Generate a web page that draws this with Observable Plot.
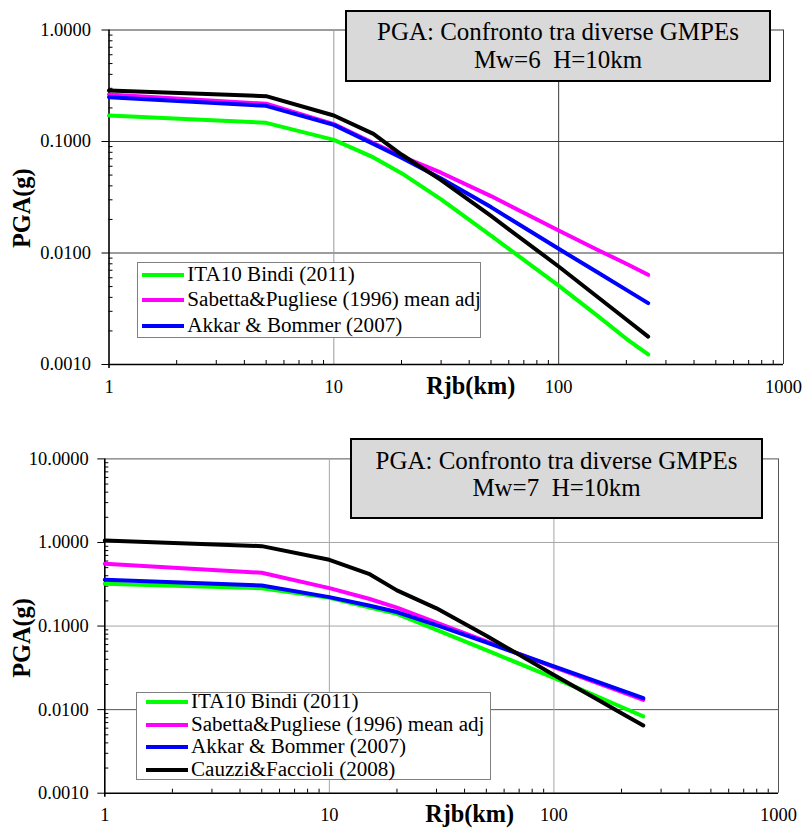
<!DOCTYPE html>
<html>
<head>
<meta charset="utf-8">
<script src="https://cdn.jsdelivr.net/npm/d3@7"></script>
<script src="https://cdn.jsdelivr.net/npm/@observablehq/plot@0.6"></script>
<style>
  html, body { margin: 0; padding: 0; background: #fff; }
  #root { position: relative; width: 802px; height: 829px; overflow: hidden; }
  .panel { position: absolute; left: 0; }
  .titlebox { position: absolute; box-sizing: border-box; border: 2px solid #000; background: #d9d9d9; text-align: center; color: #000; white-space: pre; }
  .legend { position: absolute; box-sizing: border-box; border: 1px solid #808080; background: #fff; color: #000; white-space: pre; }
  .row { display: flex; align-items: center; }
  .sw { display: inline-block; height: 4px; flex: none; }
</style>
</head>
<body>
<div id="root"></div>
<script>
// ---------------- data ----------------
const distances = [1, 5, 10, 15, 20, 30, 50, 100, 150, 200, 250];

// Mw=6, H=10km
const bindiMw6    = [0.171, 0.147, 0.1035, 0.072, 0.052, 0.0303, 0.0143, 0.0051, 0.0027, 0.0017, 0.00123];
const sabettaMw6  = [0.264, 0.218, 0.143, 0.097, 0.0735, 0.0525, 0.0324, 0.0159, 0.0106, 0.0080, 0.00637];
const akkarMw6    = [0.250, 0.209, 0.141, 0.095, 0.0714, 0.0465, 0.0258, 0.0109, 0.00664, 0.00467, 0.00355];
const cauzziMw6   = [0.287, 0.255, 0.171, 0.117, 0.0764, 0.0450, 0.0215, 0.00757, 0.00399, 0.00253, 0.00178];

// Mw=7, H=10km
const bindiMw7    = [0.320, 0.284, 0.218, 0.168, 0.140, 0.090, 0.0515, 0.024, 0.015, 0.01075, 0.0083];
const sabettaMw7  = [0.556, 0.434, 0.284, 0.212, 0.166, 0.110, 0.0656, 0.0323, 0.0217, 0.0163, 0.0131];
const akkarMw7    = [0.358, 0.306, 0.222, 0.176, 0.147, 0.1025, 0.0637, 0.033, 0.0224, 0.017, 0.0137];
const cauzziMw7   = [1.057, 0.904, 0.621, 0.422, 0.267, 0.163, 0.0766, 0.026, 0.0141, 0.00906, 0.00647];

const modelNames = ["ITA10 Bindi (2011)", "Sabetta&Pugliese (1996) mean adj", "Akkar & Bommer (2007)", "Cauzzi&Faccioli (2008)"];
const modelColors = ["#00ff00", "#ff00ff", "#0000ff", "#000000"];

const xMajorTicks = [1, 10, 100, 1000];
const xMinorTicks = [2,3,4,5,6,7,8,9,20,30,40,50,60,70,80,90,200,300,400,500,600,700,800,900];
const yMajorTicksMw6 = [0.001, 0.01, 0.1, 1];
const yMajorTicksMw7 = [0.001, 0.01, 0.1, 1, 10];
const titleMw6 = ["PGA: Confronto tra diverse GMPEs", "Mw=6  H=10km"];
const titleMw7 = ["PGA: Confronto tra diverse GMPEs", "Mw=7  H=10km"];
const yLabel = "PGA(g)";
const xLabel = "Rjb(km)";

// ---------------- font selection (serif, Times-like) ----------------
const ctx = document.createElement("canvas").getContext("2d");
function hasFont(f) {
  const s = "abcdefghijklmnopqrstuvwxyzABCDEFGHIJ0123456789";
  let res = false;
  for (const base of ["monospace", "sans-serif"]) {
    ctx.font = `40px ${base}`; const w0 = ctx.measureText(s).width;
    ctx.font = `40px "${f}", ${base}`; const w1 = ctx.measureText(s).width;
    if (Math.abs(w1 - w0) > 0.5) res = true;
  }
  return res;
}
const candidates = ["Liberation Serif", "Times New Roman", "Tinos", "Nimbus Roman", "Nimbus Roman No9 L", "DejaVu Serif", "Noto Serif"];
const chosen = candidates.find(hasFont);
const FAMILY = chosen ? `"${chosen}", serif` : "serif";
function fitSize(text, target, nominal, weight) {
  ctx.font = `${weight || "normal"} ${nominal}px ${FAMILY}`;
  const w = ctx.measureText(text).width;
  return w > 0 ? nominal * target / w : nominal;
}
const tickFs   = fitSize("10.0000", 60, 18);
const legendFs = fitSize("ITA10 Bindi (2011)", 167.5, 20);
const titleFs  = fitSize("PGA: Confronto tra diverse GMPEs", 362, 25);
const axisFs   = fitSize("Rjb(km)", 89, 24, "bold");

// ---------------- helpers ----------------
function minorFor(majors) {
  const out = [];
  for (let i = 0; i < majors.length - 1; i++) for (let k = 2; k <= 9; k++) out.push(majors[i] * k);
  return out;
}
function tidy(seriesList) {
  const rows = [];
  seriesList.forEach((vals, i) => vals.forEach((v, j) => rows.push({model: modelNames[i], idx: i, r: distances[j], pga: v})));
  return rows;
}

function makeChart(cfg) {
  const rows = tidy(cfg.series);
  const lineMarks = cfg.series.map((_, i) =>
    Plot.line(rows.filter(d => d.idx === i), {x: "r", y: "pga", stroke: modelColors[i], strokeWidth: 4, strokeLinejoin: "round", strokeLinecap: "round"})
  );
  return Plot.plot({
    width: 802,
    height: cfg.height,
    marginTop: cfg.mt, marginBottom: cfg.mb, marginLeft: cfg.ml, marginRight: cfg.mr,
    style: {fontFamily: FAMILY, fontSize: tickFs + "px", color: "#000", background: "transparent", overflow: "visible"},
    x: {type: "log", domain: [1, 1000]},
    y: {type: "log", domain: cfg.yDomain},
    marks: [
      Plot.gridY(cfg.gridDarkY, {stroke: cfg.darkGrid, strokeOpacity: 1}),
      Plot.gridY(cfg.gridLightY, {stroke: cfg.lightGrid, strokeOpacity: 1}),
      Plot.gridX(cfg.gridDarkX, {stroke: cfg.darkGrid, strokeOpacity: 1}),
      Plot.gridX(cfg.gridLightX, {stroke: cfg.lightGrid, strokeOpacity: 1}),
      Plot.axisY(minorFor(cfg.yTicks), {tickSize: -4, tickFormat: () => "", label: null}),
      Plot.axisY(cfg.yTicks, {tickSize: 7, tickPadding: cfg.yPad, tickFormat: d3.format(".4f"), label: null, fontSize: tickFs}),
      Plot.axisX(xMinorTicks, {tickSize: -4, tickFormat: () => "", label: null}),
      Plot.axisX(xMajorTicks, {tickSize: 0, tickPadding: 15, tickFormat: d => String(d), label: null, fontSize: tickFs}),
      Plot.ruleX([1], {stroke: "#000", strokeWidth: 1.6, insetBottom: -4}),
      Plot.ruleY([cfg.yDomain[0]], {stroke: "#000", strokeWidth: 1.6}),
      ...lineMarks,
      Plot.text([yLabel], {frameAnchor: "left", textAnchor: "middle", lineAnchor: "middle", rotate: -90, dx: cfg.yLabDx, dy: cfg.yLabDy, fontWeight: "bold", fontSize: axisFs}),
      Plot.text([xLabel], {frameAnchor: "bottom", textAnchor: "middle", lineAnchor: "middle", dx: cfg.xLabDx, dy: cfg.xLabDy, fontWeight: "bold", fontSize: axisFs})
    ]
  });
}

function addTitle(root, lines, box) {
  const d = document.createElement("div");
  d.className = "titlebox";
  Object.assign(d.style, {left: box.left + "px", top: box.top + "px", width: box.width + "px", height: box.height + "px", paddingTop: box.pad + "px", lineHeight: box.lh + "px", fontFamily: FAMILY, fontSize: titleFs + "px"});
  lines.forEach(t => { const l = document.createElement("div"); l.textContent = t; d.appendChild(l); });
  root.appendChild(d);
}
function addLegend(root, count, box) {
  const d = document.createElement("div");
  d.className = "legend";
  Object.assign(d.style, {left: box.left + "px", top: box.top + "px", width: box.width + "px", height: box.height + "px", fontFamily: FAMILY, fontSize: legendFs + "px"});
  const inner = document.createElement("div");
  inner.style.marginTop = box.shift + "px";
  for (let i = 0; i < count; i++) {
    const row = document.createElement("div");
    row.className = "row";
    row.style.height = box.lh + "px";
    row.style.lineHeight = box.lh + "px";
    const sw = document.createElement("span");
    sw.className = "sw";
    Object.assign(sw.style, {background: modelColors[i], width: box.sw + "px", marginLeft: box.swLeft + "px", marginRight: box.gap + "px", marginTop: "1px"});
    const tx = document.createElement("span");
    tx.textContent = modelNames[i];
    row.appendChild(sw); row.appendChild(tx);
    inner.appendChild(row);
  }
  d.appendChild(inner);
  root.appendChild(d);
}

// ---------------- build ----------------
const rootEl = document.getElementById("root");

const chartMw6 = makeChart({
  height: 410, mt: 29.5, mb: 46, ml: 108.5, mr: 19,
  yDomain: [0.001, 1], yTicks: yMajorTicksMw6, yPad: 11,
  series: [bindiMw6, sabettaMw6, akkarMw6, cauzziMw6],
  darkGrid: "#3a3a3a", lightGrid: "#9a9a9a",
  gridDarkY: [0.01, 0.1, 1], gridLightY: [],
  gridDarkX: [100, 1000], gridLightX: [10],
  yLabDx: -87, yLabDy: 11, xLabDx: 24.5, xLabDy: 21.5
});
const p1 = document.createElement("div"); p1.className = "panel"; p1.style.top = "0px"; p1.appendChild(chartMw6); rootEl.appendChild(p1);

const chartMw7 = makeChart({
  height: 419, mt: 48.4, mb: 36.3, ml: 104.3, mr: 24,
  yDomain: [0.001, 10], yTicks: yMajorTicksMw7, yPad: 9,
  series: [bindiMw7, sabettaMw7, akkarMw7, cauzziMw7],
  darkGrid: "#555555", lightGrid: "#a6a6a6",
  gridDarkY: [0.01, 10], gridLightY: [0.1, 1],
  gridDarkX: [1000], gridLightX: [10, 100],
  yLabDx: -83, yLabDy: 12, xLabDx: 28, xLabDy: 21.3
});
const p2 = document.createElement("div"); p2.className = "panel"; p2.style.top = "410px"; p2.appendChild(chartMw7); rootEl.appendChild(p2);

addTitle(rootEl, titleMw6, {left: 345, top: 10, width: 426, height: 72, pad: 6, lh: 27.6});
addTitle(rootEl, titleMw7, {left: 350, top: 438, width: 413, height: 80.5, pad: 7, lh: 27.3});
addLegend(rootEl, 3, {left: 136.7, top: 261.7, width: 344, height: 76, shift: -1.2, lh: 25.5, sw: 42.6, swLeft: 4, gap: 3});
addLegend(rootEl, 4, {left: 135.7, top: 691.7, width: 355.3, height: 88.3, shift: -2.4, lh: 22.6, sw: 42.3, swLeft: 9.3, gap: 2.7});
</script>
</body>
</html>
